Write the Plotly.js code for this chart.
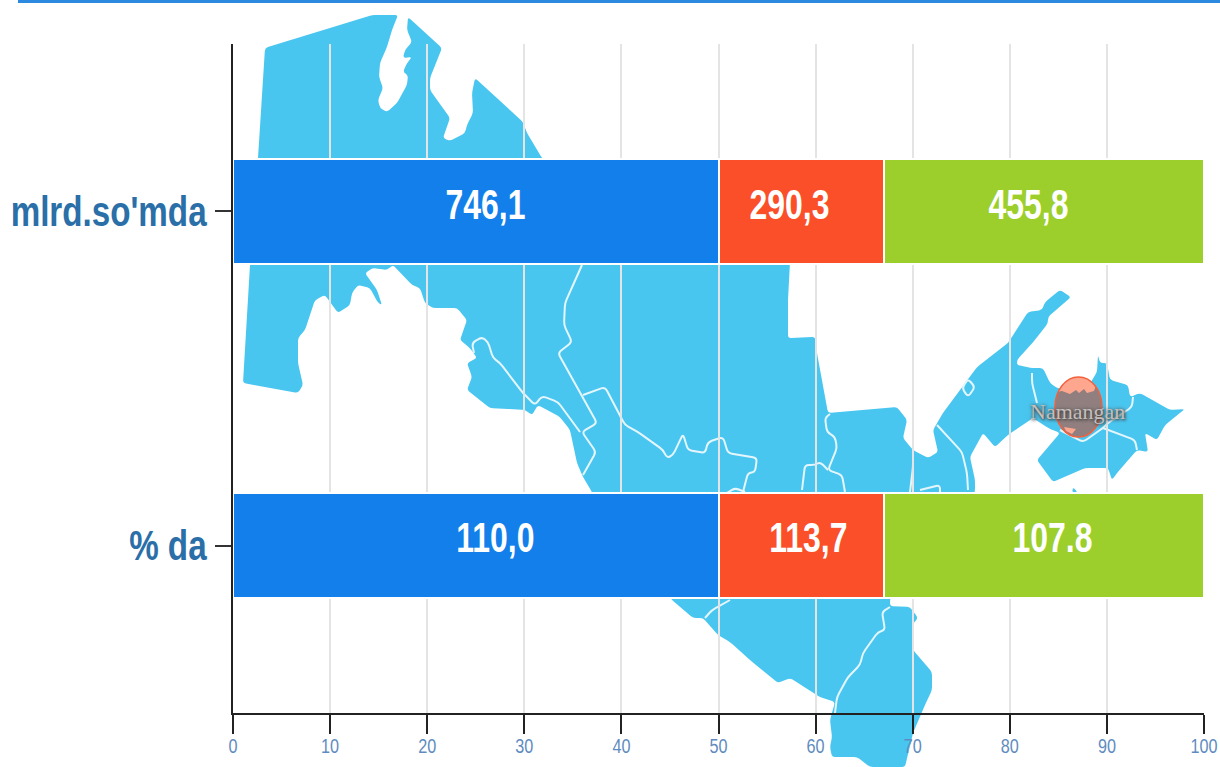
<!DOCTYPE html>
<html>
<head>
<meta charset="utf-8">
<script src="https://cdn.plot.ly/plotly-3.0.1.min.js"></script>
<style>html,body{margin:0;padding:0;background:#fff;overflow:hidden}#chart{width:1220px;height:767px}</style>
</head>
<body>
<div id="chart"></div>
<script>
// ---- data ----
const categories = ["mlrd.so'mda", "% da"];
const seriesNames = ["A", "B", "C"];
const blueShare = [50, 50];
const orangeShare = [17, 17];
const greenShare = [33, 33];
const blueLabels = ["746,1", "110,0"];
const orangeLabels = ["290,3", "113,7"];
const greenLabels = ["455,8", "107.8"];
const xTicks = [0,10,20,30,40,50,60,70,80,90,100];

// ---- styling ----
const colors = ["#137fea", "#fa4f29", "#9ccf2b"];
const sans = "'Liberation Sans',Arial,sans-serif";
const L = 233, R = 16, T = 44, B = 54, W = 1220, H = 767;
const plotW = W - L - R, plotH = H - T - B;

// ---- decorative background map (pixel space of the page) ----
const mapOutline = "M265,48 L372,15 L398,15 L392,30 L387,47 L380,63 L379,77 L383,88 L378,100 L380,108 L387,112 L397,103 L407,85 L408,75 L403,72 L407,63 L412,57 L403,58 L405,50 L412,42 L407,30 L408,17 L442,48 L430,78 L430,90 L450,118 L443,138 L450,141 L465,133 L467,125 L473,113 L472,93 L475,78 L523,122 L527,133 L542,158 L546,162 L790,262 L788,300 L788,338 L815,337 L817,353 L828,413 L897,407 L907,420 L903,438 L913,450 L928,458 L938,452 L933,430 L943,413 L977,367 L1008,343 L1028,312 L1042,310 L1045,302 L1060,290 L1071,297 L1048,317 L1048,323 L1035,340 L1017,360 L1017,365 L1032,368 L1043,368 L1050,383 L1057,388 L1085,392 L1097,372 L1098,355 L1100,363 L1107,363 L1110,380 L1128,385 L1130,397 L1140,393 L1170,410 L1185,409 L1165,425 L1157,440 L1145,433 L1148,452 L1137,450 L1117,473 L1112,480 L1108,468 L1085,468 L1053,482 L1037,460 L1060,433 L1048,428 L1033,418 L1008,435 L995,447 L983,433 L970,457 L975,480 L975,492 L960,520 L890,598 L890,606 L910,607 L918,618 L912,625 L913,650 L932,672 L932,690 L925,705 L913,733 L905,767 L870,767 L857,757 L832,757 L830,747 L832,737 L830,720 L835,702 L820,697 L790,678 L778,683 L750,660 L730,642 L718,635 L703,618 L693,618 L672,600 L600,520 L592,492 L583,477 L577,463 L570,430 L560,417 L538,405 L532,415 L525,410 L490,408 L467,390 L472,377 L467,363 L477,358 L470,348 L460,340 L467,320 L457,308 L433,308 L425,303 L420,288 L412,285 L393,265 L387,270 L373,268 L365,273 L377,290 L382,305 L378,303 L370,288 L358,285 L352,293 L350,305 L338,313 L325,295 L315,300 L305,330 L298,338 L298,363 L303,385 L298,393 L243,383 L250,265 L258,158 Z M1072,493 L1073,487 L1078,493 Z";
const mapBorders = [
 "M582,265 L565,303 L564,325 L572,342 L558,353 L597,423 L582,432 L596,452 L583,475",
 "M474,353 L472,343 L482,337 L488,342 L493,358 L500,363 L523,393 L535,405 L542,396 L558,402 L580,432",
 "M583,395 L605,387 L625,425 L638,432 L663,450 L667,458 L673,455 L683,434 L688,450 L705,453 L708,442 L723,437 L728,453 L757,458 L755,472 L748,473 L743,492",
 "M830,414 L825,418 L827,432 L835,437 L837,448 L828,470 L842,475 L845,492",
 "M828,470 L820,462 L815,465 L805,465 L802,490",
 "M913,450 L913,467 L910,492",
 "M937,425 L962,452 L967,473 L968,490",
 "M968,379 L975,387 L968,397 L962,388 Z",
 "M1032,373 L1032,383 L1037,403",
 "M1103,428 L1135,440 L1137,450",
 "M1133,397 L1132,407 L1108,423 L1103,428 L1083,442 L1060,430",
 "M705,618 L712,610 L730,600",
 "M890,607 L882,612 L885,630 L878,632 L863,653 L860,665 L848,677 L837,697 L835,713",
 "M727,493 L735,488 L745,492",
 "M920,490 L940,485 L940,493"
];
const skyline = "M1050,393 L1062,391 L1070,394 L1076,390 L1079,393 L1084,389 L1087,393 L1094,391 L1098,380 L1110,380 L1110,445 L1050,445 Z";

// round the corners of a polyline path so coastlines and borders read as organic
function rounded(d, radius) {
  return d.split(/(?=M)/).map(sub => {
    const closed = /Z\s*$/.test(sub);
    const pts = sub.replace(/[MLZ]/g, " ").trim().split(/\s+/).map(p => p.split(",").map(Number));
    const n = pts.length;
    const at = (p, q, t) => [p[0] + (q[0] - p[0]) * t, p[1] + (q[1] - p[1]) * t];
    const cut = (p, q) => { const len = Math.hypot(q[0]-p[0], q[1]-p[1]) || 1; return Math.min(radius, len / 2) / len; };
    let out = "";
    const corner = i => {
      const p = pts[i], a = pts[(i - 1 + n) % n], b = pts[(i + 1) % n];
      return [at(p, a, cut(p, a)), p, at(p, b, cut(p, b))];
    };
    if (closed) {
      const first = corner(0);
      out = `M${first[2][0]},${first[2][1]}`;
      for (let i = 1; i <= n; i++) { const c = corner(i % n); out += ` L${c[0][0]},${c[0][1]} Q${c[1][0]},${c[1][1]} ${c[2][0]},${c[2][1]}`; }
      return out + " Z";
    }
    out = `M${pts[0][0]},${pts[0][1]}`;
    for (let i = 1; i < n - 1; i++) { const c = corner(i); out += ` L${c[0][0]},${c[0][1]} Q${c[1][0]},${c[1][1]} ${c[2][0]},${c[2][1]}`; }
    return out + ` L${pts[n-1][0]},${pts[n-1][1]}`;
  }).join(" ");
}

const mapSvg = `<svg xmlns="http://www.w3.org/2000/svg" width="${W}" height="${H}" viewBox="0 0 ${W} ${H}">
<defs><filter id="b" x="-2%" y="-2%" width="104%" height="104%"><feGaussianBlur stdDeviation="0.7"/></filter>
<clipPath id="c"><ellipse cx="1078.5" cy="407" rx="23.5" ry="30"/></clipPath></defs>
<g filter="url(#b)">
<path d="${rounded(mapOutline, 3)}" fill="#4ac6f0" fill-rule="evenodd"/>
${mapBorders.map(d => `<path d="${rounded(d, 4)}" fill="none" stroke="#e4f6fc" stroke-width="2" stroke-linejoin="round"/>`).join("")}
<ellipse cx="1078.5" cy="407" rx="23.5" ry="30" fill="#ffa68f"/>
<path d="${skyline}" fill="#917f7f" clip-path="url(#c)"/>
<path d="M1064,427 L1076,429 L1072,434 L1066,431 Z" fill="#ffa68f"/>
<ellipse cx="1078.5" cy="407" rx="23.5" ry="30" fill="none" stroke="#f4603c" stroke-width="1.5"/>
</g></svg>`;

// ---- traces ----
const stackedSeries = [blueShare, orangeShare, greenShare];
const traces = stackedSeries.map((vals, i) => ({
  type: "bar",
  orientation: "h",
  name: seriesNames[i],
  y: categories,
  x: vals,
  marker: {color: colors[i], line: {color: "#ffffff", width: 2}},
  hoverinfo: "skip"
}));

// ---- value labels ----
const labelSets = [blueLabels, orangeLabels, greenLabels];
const nudgeX = [[10, -12, -15], [20, 7, 9]];
const nudgeY = [7, 8];
const annotations = [];
categories.forEach((cat, c) => {
  let start = 0;
  stackedSeries.forEach((vals, s) => {
    annotations.push({
      x: start + vals[c] / 2, y: cat, xref: "x", yref: "y",
      text: labelSets[s][c], showarrow: false,
      xshift: nudgeX[c][s], yshift: nudgeY[c],
      font: {family: sans, size: 42, color: "#ffffff", weight: 700}
    });
    start += vals[c];
  });
});
annotations.push({
  xref: "paper", yref: "paper", xanchor: "center", yanchor: "middle",
  x: (1077 - L) / plotW, y: (H - B - 411) / plotH,
  text: "Namangan", showarrow: false,
  font: {family: "'Liberation Serif',serif", size: 22, color: "#c4bfbd", shadow: "1px 1px 3px #333, 0 0 4px #666"}
});

// ---- layout ----
const layout = {
  width: W, height: H,
  margin: {l: L, r: R, t: T, b: B, pad: 0},
  paper_bgcolor: "#ffffff",
  plot_bgcolor: "rgba(0,0,0,0)",
  barmode: "stack",
  bargap: 0.686,
  showlegend: false,
  xaxis: {
    range: [0, 100], tickmode: "array", tickvals: xTicks, ticktext: xTicks.map(String),
    showgrid: true, gridcolor: "#e4e4e4", gridwidth: 2, zeroline: false,
    showline: true, linecolor: "#222222", linewidth: 2,
    ticks: "outside", ticklen: 19, tickwidth: 2, tickcolor: "#222222",
    ticklabeloverflow: "allow", ticklabelstandoff: -5,
    tickfont: {family: sans, size: 20, color: "#5f8cc0"}
  },
  yaxis: {
    type: "category", categoryorder: "array", categoryarray: categories.slice().reverse(),
    showgrid: false, zeroline: false,
    showline: true, linecolor: "#222222", linewidth: 2,
    ticks: "outside", ticklen: 16, tickwidth: 2, tickcolor: "#333333",
    tickfont: {family: sans, size: 42, color: "#2b6fa8", weight: 700}
  },
  annotations,
  images: [{
    source: "data:image/svg+xml;charset=utf-8," + encodeURIComponent(mapSvg),
    xref: "paper", yref: "paper",
    x: -L / plotW, y: (H - B) / plotH,
    sizex: W / plotW, sizey: H / plotH,
    xanchor: "left", yanchor: "top", sizing: "stretch", layer: "below"
  }],
  shapes: [{
    type: "rect", xref: "paper", yref: "paper", layer: "above",
    x0: (18 - L) / plotW, x1: (W - L) / plotW,
    y0: (H - B - 3) / plotH, y1: (H - B) / plotH,
    fillcolor: "#2b8ae0", line: {width: 0}
  }]
};

// the reference type is condensed: squeeze the real text horizontally
function condense(selector, factor) {
  document.querySelectorAll(selector).forEach(t => {
    t.setAttribute("textLength", t.getComputedTextLength() * factor);
    t.setAttribute("lengthAdjust", "spacingAndGlyphs");
  });
}
Plotly.newPlot("chart", traces, layout, {displayModeBar: false, staticPlot: true}).then(() => {
  document.querySelectorAll(".annotation-text").forEach(t => {
    if (t.textContent !== "Namangan") {
      t.setAttribute("textLength", t.getComputedTextLength() * 0.76);
      t.setAttribute("lengthAdjust", "spacingAndGlyphs");
    }
  });
  condense(".ytick text", 0.79);
  condense(".xtick text", 0.81);
});
</script>
</body>
</html>
